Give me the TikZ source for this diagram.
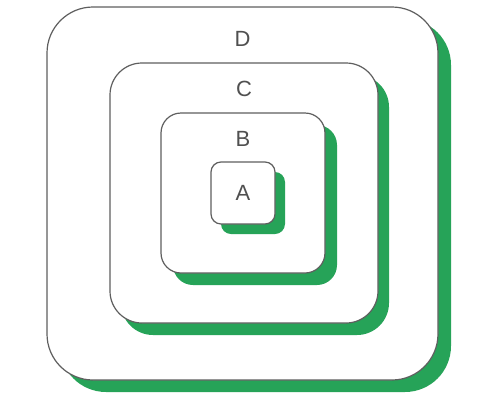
\documentclass[tikz,border=0pt]{standalone}
\usepackage{fontspec}
\setmainfont{Liberation Sans}
\usepackage{tikz}
\usetikzlibrary{shadows,positioning}

\definecolor{shadowgreen}{RGB}{38,163,88}
\definecolor{edgegray}{RGB}{95,95,95}
\definecolor{labelgray}{RGB}{80,80,80}

\begin{document}
\begin{tikzpicture}[
      x=1pt, y=-1pt,
      level/.style={draw=edgegray, line width=1.2pt, fill=white,
        minimum width=#1, inner sep=0pt},
      tag/.style={font=\fontsize{22}{24}\selectfont, text=labelgray,
        inner sep=0pt}
    ]
    \useasboundingbox (0,0) rectangle (491,416);

    % outermost level first, so the inner ones sit on top
    \node[level=391pt, minimum height=373pt, rounded corners=46pt,
      drop shadow={shadow xshift=13pt, shadow yshift=-12pt,
        fill=shadowgreen, opacity=1}] (D) at (242.5,193.5) {};
    \node[tag, below=25pt of D.north] (Dl) {D};

    \node[level=268pt, minimum height=260pt, rounded corners=32pt,
      drop shadow={shadow xshift=11pt, shadow yshift=-12pt,
        fill=shadowgreen, opacity=1}] (C) at (244,193) {};
    \node[tag, below=19pt of C.north] (Cl) {C};

    \node[level=164pt, minimum height=160pt, rounded corners=20pt,
      drop shadow={shadow xshift=12pt, shadow yshift=-12pt,
        fill=shadowgreen, opacity=1}] (B) at (243,193) {};
    \node[tag, below=19pt of B.north] (Bl) {B};

    \node[level=64pt, minimum height=62pt, rounded corners=10pt,
      drop shadow={shadow xshift=10pt, shadow yshift=-10pt,
        fill=shadowgreen, opacity=1}] (A) at (243,193) {};
    \node[tag] (Al) at (A.center) {A};
  \end{tikzpicture}
\end{document}
